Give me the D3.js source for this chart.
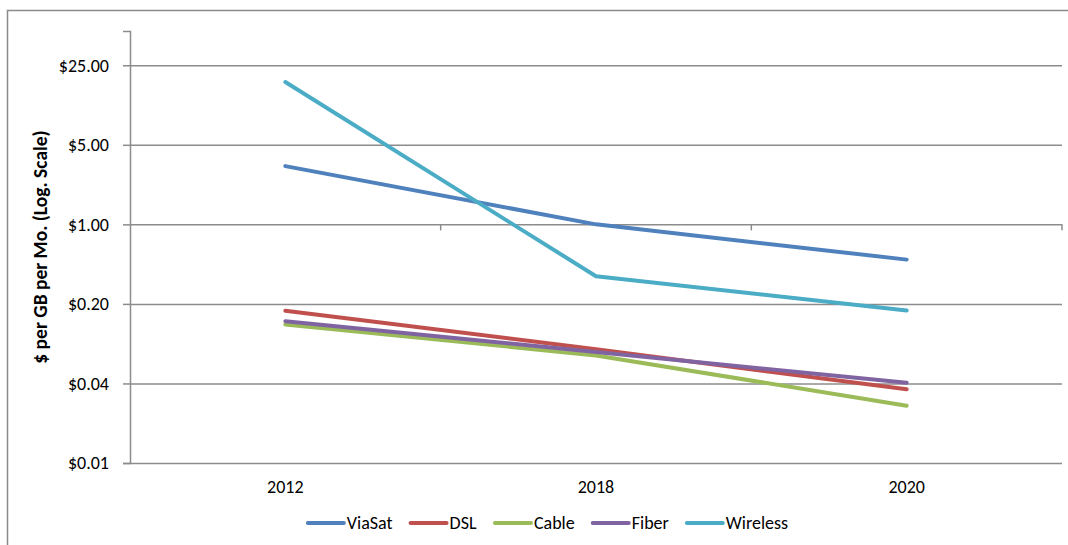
<!DOCTYPE html>
<html>
<head>
<meta charset="utf-8">
<script src="https://cdn.jsdelivr.net/npm/d3@7"></script>
<style>
  html, body { margin: 0; padding: 0; background: #fff; }
  svg { display: block; font-family: Carlito, Calibri, Lato, sans-serif; }
</style>
</head>
<body>
<svg id="chart" width="1068" height="545"></svg>
<script>
// data
const years = ["2012", "2018", "2020"];
const seriesNames = ["ViaSat", "DSL", "Cable", "Fiber", "Wireless"];
const seriesColors = ["#4F81BD", "#C0504D", "#9BBB59", "#8064A2", "#4BACC6"];
const viasat = [3.25, 1.0, 0.49];
const dsl = [0.174, 0.080, 0.0355];
const cable = [0.132, 0.0705, 0.0255];
const fiber = [0.141, 0.0755, 0.0405];
const wireless = [17.8, 0.35, 0.175];
const yTicks = [0.008, 0.04, 0.2, 1, 5, 25];

const allSeries = [viasat, dsl, cable, fiber, wireless];

const svg = d3.select("#chart");
const fontFam = "Carlito, Calibri, Lato, sans-serif";

// chart area border (runs off the picture on right and bottom)
svg.append("rect")
    .attr("x", 7.5).attr("y", 10.5)
    .attr("width", 1080).attr("height", 560)
    .attr("fill", "none")
    .attr("stroke", "#8a8a8a")
    .attr("stroke-width", 1.5);

const plotLeft = 130, plotRight = 1062, plotTop = 31, plotBottom = 463;

const x = d3.scaleBand().domain(years).range([plotLeft, plotRight]);
const y = d3.scaleLog().base(5).domain([0.008, 50]).range([plotBottom, plotTop]);

const fmt = d => "$" + d3.format(".2f")(d);

// gridlines
const grid = svg.append("g")
    .attr("transform", `translate(${plotLeft},0)`)
    .call(d3.axisLeft(y).tickValues(yTicks).tickSize(-(plotRight - plotLeft)).tickFormat(""));
grid.select(".domain").remove();
grid.selectAll("line").attr("stroke", "#8c8c8c").attr("stroke-width", 1.5);

// y axis
const yAxis = svg.append("g")
    .attr("transform", `translate(${plotLeft},0)`)
    .call(d3.axisLeft(y).tickValues(yTicks).tickSize(7).tickPadding(14).tickFormat(fmt));
yAxis.select(".domain").attr("stroke", "#8c8c8c").attr("stroke-width", 1.5);
yAxis.selectAll("line").attr("stroke", "#8c8c8c").attr("stroke-width", 1.5);
yAxis.attr("font-size", 18).attr("font-family", fontFam);
yAxis.selectAll("text").attr("fill", "#000");

// x axis line crosses at $1.00, ticks between categories
const xAxisY = y(1);
svg.append("g")
    .selectAll("line")
    .data(years)
    .enter()
    .append("line")
    .attr("x1", d => x(d) + x.bandwidth())
    .attr("x2", d => x(d) + x.bandwidth())
    .attr("y1", xAxisY)
    .attr("y2", xAxisY + 6)
    .attr("stroke", "#8c8c8c")
    .attr("stroke-width", 1.5);

// category labels at the bottom
const xAxis = svg.append("g")
    .attr("transform", `translate(0,${plotBottom})`)
    .call(d3.axisBottom(x).tickSize(0).tickPadding(17));
xAxis.select(".domain").remove();
xAxis.attr("font-size", 18).attr("font-family", fontFam);
xAxis.selectAll("text").attr("fill", "#000");

// y axis title
svg.append("text")
    .attr("transform", `translate(47,${(plotTop + plotBottom) / 2}) rotate(-90)`)
    .attr("text-anchor", "middle")
    .attr("font-size", 19.5)
    .attr("font-weight", "bold")
    .attr("fill", "#000")
    .text("$ per GB per Mo. (Log. Scale)");

// lines
const line = d3.line()
    .x((d, i) => x(years[i]) + x.bandwidth() / 2)
    .y(d => y(d));

svg.append("g")
    .selectAll("path")
    .data(allSeries)
    .enter()
    .append("path")
    .attr("d", line)
    .attr("fill", "none")
    .attr("stroke", (d, i) => seriesColors[i])
    .attr("stroke-width", 4)
    .attr("stroke-linecap", "round")
    .attr("stroke-linejoin", "round");

// legend
const legend = svg.append("g").attr("transform", "translate(0,523)");
const items = legend.selectAll("g")
    .data(seriesNames)
    .enter()
    .append("g");
items.append("line")
    .attr("x1", 1).attr("x2", 37)
    .attr("stroke", (d, i) => seriesColors[i])
    .attr("stroke-width", 4)
    .attr("stroke-linecap", "round");
items.append("text")
    .attr("x", 40)
    .attr("dy", "0.35em")
    .attr("font-size", 18)
    .attr("fill", "#000")
    .text(d => d);

// place legend items side by side, centered
let widths = [];
items.each(function () { widths.push(this.getBBox().width); });
const gap = 18;
const total = d3.sum(widths) + gap * (widths.length - 1);
let cx = 547 - total / 2;
items.attr("transform", (d, i) => {
    const t = `translate(${cx},0)`;
    cx += widths[i] + gap;
    return t;
});
</script>
</body>
</html>
